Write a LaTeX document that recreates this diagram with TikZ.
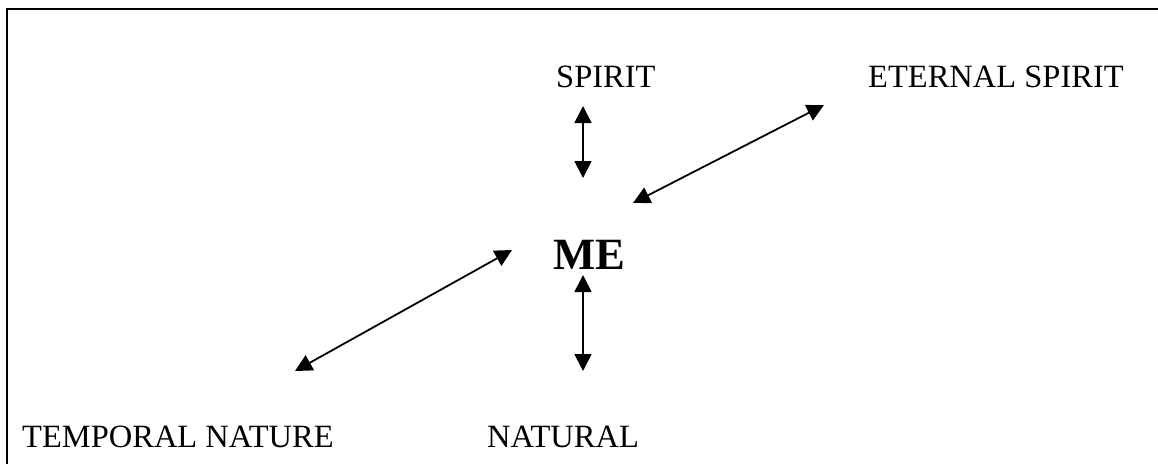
\documentclass[tikz,border=0pt]{standalone}
\usepackage{fontspec}
\setmainfont{Liberation Serif}
\usetikzlibrary{arrows.meta}
\begin{document}
\begin{tikzpicture}[x=1pt,y=-1pt,
  lbl/.style={anchor=base west,inner sep=0pt,font=\fontsize{32.5}{39}\selectfont},
  melbl/.style={anchor=base west,inner sep=0pt,font=\fontsize{44.7}{52}\selectfont\bfseries},
  link/.style={line width=1.8pt,{Triangle[length=17pt,width=17pt]}-{Triangle[length=17pt,width=17pt]}},
  frame/.style={line width=2pt}]
\useasboundingbox (0,0) rectangle (1158,464);
\draw[frame] (7,464) -- (7,9) -- (1158,9);
\node[lbl] (spirit) at (556,87) {SPIRIT};
\node[lbl] (eternal) at (868,87) {ETERNAL SPIRIT};
\node[melbl] (me) at (553,269) {ME};
\node[lbl] (temporal) at (22,447) {TEMPORAL NATURE};
\node[lbl] (natural) at (487,447) {NATURAL};
\coordinate (s1) at (583,106);
\coordinate (s2) at (583,178);
\coordinate (e1) at (633,203);
\coordinate (e2) at (824,105);
\coordinate (t1) at (512,250);
\coordinate (t2) at (295,371);
\coordinate (n1) at (583,275);
\coordinate (n2) at (583,371);
\draw[link] (s1) -- (s2);
\draw[link] (e1) -- (e2);
\draw[link] (t1) -- (t2);
\draw[link] (n1) -- (n2);
\end{tikzpicture}
\end{document}
